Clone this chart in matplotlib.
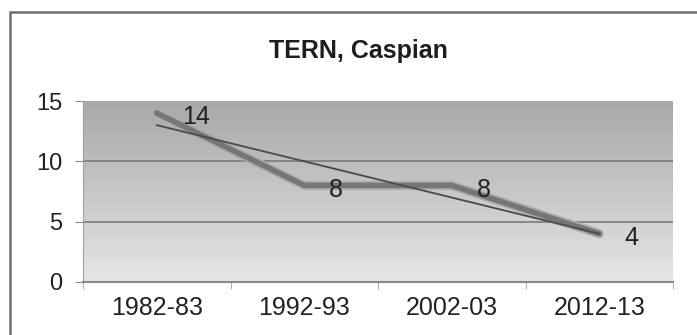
import numpy as np
import matplotlib
matplotlib.use('Agg')
import matplotlib.pyplot as plt
import matplotlib.patheffects as pe
from matplotlib.patches import Rectangle

plt.rcParams['font.family'] = ['Liberation Sans', 'DejaVu Sans']

seasons = ['1982-83', '1992-93', '2002-03', '2012-13']
counts = [14, 8, 8, 4]
title = 'TERN, Caspian'

fig = plt.figure(figsize=(6.97, 3.35), dpi=100)
fig.patch.set_facecolor('white')

# chart frame, only top and left edges fall inside the image
fig.patches.append(Rectangle((10 / 697, -0.1), 1.2, 1 - 12 / 335 + 0.1,
                             transform=fig.transFigure, fill=False,
                             edgecolor='#6e6e6e', linewidth=1.8))

ax = fig.add_axes([83 / 697, 1 - 282 / 335, 590 / 697, 181 / 335])
x = np.arange(len(seasons)) + 0.5

# vertical gray gradient for the plot area, darker at the top
grad = np.linspace(0, 1, 256).reshape(-1, 1)
ax.imshow(grad, cmap=matplotlib.colors.LinearSegmentedColormap.from_list(
    'bg', ['#a8a8a8', '#e6e6e6']), aspect='auto', origin='upper',
    extent=[0, 4, 0, 15], zorder=0)

ax.set_xlim(0, 4)
ax.set_ylim(0, 15)
ax.set_yticks([0, 5, 10, 15])
ax.set_xticks(x)
ax.set_xticklabels(seasons)
ax.set_xticks([0, 1, 2, 3, 4], minor=True)
for yv in [5, 10]:
    ax.axhline(yv, color='#7c7c7c', linewidth=1.2, zorder=1)

for s in ['top', 'right']:
    ax.spines[s].set_visible(False)
ax.spines['left'].set_color('#a0a0a0')
ax.spines['bottom'].set_color('#8a8a8a')
ax.spines['bottom'].set_linewidth(1.5)
ax.tick_params(axis='y', length=6, color='#8a8a8a', pad=9, labelsize=17, labelcolor='#222222')
ax.tick_params(axis='x', which='major', length=0, pad=10, labelsize=18, labelcolor='#222222')
ax.tick_params(axis='x', which='minor', length=5, color='#a0a0a0')

# data line with a soft halo
ax.plot(x, counts, color='#767676', linewidth=4, solid_joinstyle='round',
        solid_capstyle='round', zorder=3,
        path_effects=[pe.Stroke(linewidth=6.5, foreground='#ababab'), pe.Normal()])

# linear trend
coef = np.polyfit(x, counts, 1)
ax.plot(x[[0, -1]], np.polyval(coef, x[[0, -1]]), color='#4a4a4a',
        linewidth=1.3, zorder=4)

for xi, v in zip(x, counts):
    ax.annotate(str(v), (xi, v), xytext=(18, -3), textcoords='offset points',
                ha='left', va='center', fontsize=18, color='#222222', zorder=5)

fig.text(358 / 697, 1 - 51 / 335, title, ha='center', va='center',
         fontsize=18, fontweight='bold', color='#1e1e1e')

fig.savefig('out.png', dpi=100)
